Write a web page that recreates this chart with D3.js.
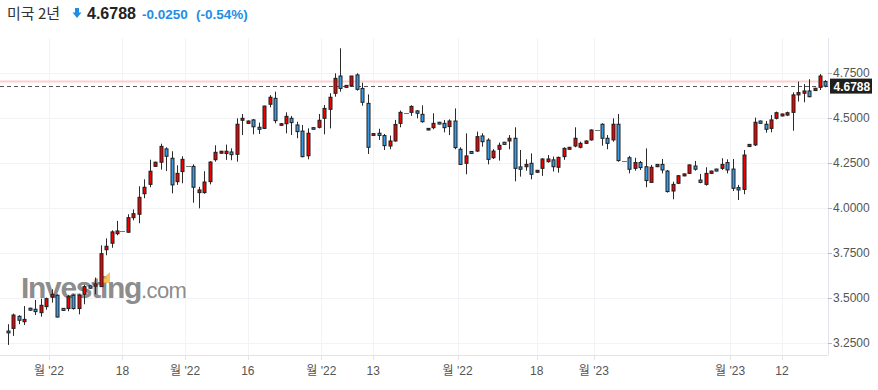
<!DOCTYPE html>
<html>
<head>
<meta charset="utf-8">
<script src="https://cdn.jsdelivr.net/npm/d3@7"></script>
<style>
  body { margin: 0; background: #fff; }
  svg { display: block; font-family: "Liberation Sans", Arial, "Noto Sans CJK KR", sans-serif; }
</style>
</head>
<body>
<svg id="chart" width="878" height="390"></svg>
<script>
// daily candles, oldest first
const opens = [3.318,3.333,3.400,3.370,3.445,3.439,3.420,3.454,3.507,3.517,3.444,3.443,3.517,3.443,3.522,3.569,3.567,3.565,3.770,3.806,
  3.859,3.874,3.867,3.948,3.967,4.081,4.133,4.233,4.256,4.330,4.278,4.148,4.204,4.237,4.233,4.087,4.087,4.148,4.270,4.306,
  4.304,4.313,4.300,4.489,4.472,4.491,4.450,4.444,4.578,4.611,4.461,4.470,4.500,4.463,4.429,4.292,4.448,4.450,4.500,4.550,
  4.639,4.735,4.672,4.681,4.741,4.666,4.583,4.405,4.417,4.404,4.346,4.374,4.472,4.530,4.533,4.541,4.522,4.435,4.448,4.478,
  4.472,4.454,4.485,4.328,4.250,4.316,4.318,4.402,4.379,4.281,4.328,4.367,4.374,4.389,4.230,4.231,4.250,4.200,4.222,4.259,
  4.269,4.228,4.287,4.328,4.346,4.339,4.361,4.380,4.433,4.467,4.389,4.380,4.467,4.263,4.281,4.222,4.254,4.231,4.144,4.231,
  4.244,4.207,4.096,4.139,4.180,4.194,4.235,4.157,4.133,4.194,4.218,4.222,4.254,4.218,4.115,4.105,4.343,4.352,4.485,4.467,
  4.444,4.500,4.513,4.518,4.533,4.630,4.639,4.652,4.654,4.672,4.704];
const highs = [3.356,3.415,3.406,3.457,3.448,3.491,3.498,3.504,3.550,3.522,3.446,3.519,3.522,3.522,3.574,3.572,3.615,3.794,3.833,3.878,
  3.930,3.874,3.967,3.994,4.122,4.161,4.270,4.259,4.359,4.339,4.317,4.239,4.289,4.237,4.244,4.119,4.206,4.261,4.350,4.319,
  4.354,4.333,4.500,4.524,4.488,4.496,4.476,4.570,4.629,4.648,4.474,4.533,4.513,4.481,4.463,4.444,4.450,4.524,4.574,4.639,
  4.750,4.889,4.685,4.735,4.750,4.698,4.633,4.417,4.442,4.413,4.404,4.491,4.543,4.530,4.572,4.546,4.572,4.446,4.528,4.480,
  4.491,4.494,4.555,4.339,4.416,4.318,4.426,4.417,4.389,4.329,4.365,4.369,4.407,4.450,4.324,4.272,4.305,4.213,4.278,4.296,
  4.287,4.287,4.339,4.341,4.450,4.370,4.378,4.439,4.433,4.472,4.407,4.500,4.524,4.263,4.291,4.281,4.263,4.333,4.241,4.246,
  4.274,4.213,4.148,4.185,4.193,4.244,4.263,4.191,4.228,4.209,4.220,4.278,4.272,4.274,4.130,4.324,4.357,4.504,4.487,4.485,
  4.518,4.537,4.526,4.537,4.644,4.704,4.690,4.717,4.669,4.746,4.712];
const lows = [3.241,3.291,3.356,3.352,3.430,3.407,3.398,3.437,3.476,3.393,3.431,3.428,3.437,3.411,3.467,3.554,3.522,3.563,3.739,3.781,
  3.850,3.874,3.865,3.933,3.917,4.056,4.117,4.231,4.215,4.207,4.083,4.130,4.139,4.237,4.031,4.000,4.081,4.133,4.259,4.304,
  4.269,4.267,4.259,4.407,4.470,4.411,4.413,4.440,4.561,4.472,4.457,4.416,4.407,4.389,4.283,4.272,4.437,4.444,4.411,4.444,
  4.620,4.648,4.670,4.676,4.654,4.570,4.302,4.403,4.380,4.324,4.328,4.370,4.450,4.530,4.513,4.500,4.476,4.433,4.439,4.466,
  4.422,4.407,4.328,4.241,4.189,4.303,4.313,4.342,4.244,4.274,4.265,4.353,4.328,4.150,4.176,4.209,4.161,4.198,4.180,4.254,
  4.204,4.198,4.269,4.326,4.339,4.333,4.357,4.376,4.433,4.348,4.328,4.370,4.259,4.263,4.194,4.209,4.213,4.117,4.143,4.229,
  4.194,4.087,4.050,4.135,4.178,4.191,4.209,4.139,4.126,4.192,4.205,4.213,4.194,4.096,4.046,4.078,4.341,4.346,4.470,4.420,
  4.422,4.494,4.511,4.513,4.431,4.593,4.589,4.617,4.652,4.657,4.672];
const closes = [3.308,3.407,3.378,3.383,3.434,3.426,3.461,3.498,3.522,3.396,3.433,3.509,3.443,3.517,3.565,3.556,3.580,3.748,3.789,3.869,
  3.874,3.874,3.948,3.970,4.061,4.117,4.206,4.256,4.344,4.289,4.130,4.194,4.272,4.237,4.117,4.102,4.146,4.257,4.311,4.317,
  4.317,4.298,4.467,4.500,4.485,4.453,4.439,4.568,4.617,4.487,4.470,4.511,4.476,4.426,4.287,4.417,4.439,4.489,4.555,4.617,
  4.722,4.666,4.683,4.735,4.661,4.589,4.339,4.415,4.405,4.348,4.374,4.466,4.533,4.530,4.566,4.528,4.481,4.444,4.472,4.468,
  4.448,4.485,4.337,4.244,4.291,4.305,4.398,4.370,4.272,4.318,4.350,4.355,4.389,4.222,4.217,4.244,4.189,4.211,4.274,4.274,
  4.231,4.283,4.333,4.339,4.389,4.361,4.374,4.435,4.433,4.389,4.361,4.467,4.265,4.263,4.217,4.254,4.226,4.154,4.228,4.244,
  4.213,4.093,4.133,4.181,4.191,4.241,4.217,4.144,4.194,4.207,4.207,4.244,4.213,4.111,4.102,4.296,4.355,4.478,4.472,4.439,
  4.491,4.531,4.524,4.531,4.630,4.643,4.652,4.620,4.667,4.735,4.6788];

const yTicks = [3.25, 3.5, 3.75, 4.0, 4.25, 4.5, 4.75];
const xTickIdx = [7.5, 21, 32.5, 44, 57.5, 67, 82.5, 97, 107.5, 132.5, 142];
const xTickLabels = ["월 '22", "18", "월 '22", "16", "월 '22", "13", "월 '22", "18", "월 '23", "월 '23", "12"];

const lastPrice = 4.6788;
const prevClose = 4.7038;
const title = "미국 2년";
const change = "-0.0250";
const changePct = "(-0.54%)";

const candles = closes.map((c, i) => ({ i, o: opens[i], h: highs[i], l: lows[i], c }));

const svg = d3.select("#chart");
const plot = { left: 0, right: 828, top: 38, bottom: 355 };

const x = d3.scaleLinear().domain([-1.47, 150.46]).range([plot.left, plot.right]);
const y = d3.scaleLinear().domain([3.25, 4.75]).range([343.3, 73.3]);

const gridColor = "#f2f3f6";
const axisColor = "#e1e4ea";

// grid
svg.append("g").selectAll("line").data(yTicks).join("line")
  .attr("x1", plot.left).attr("x2", plot.right)
  .attr("y1", d => Math.round(y(d)) + 0.5).attr("y2", d => Math.round(y(d)) + 0.5)
  .attr("stroke", gridColor);
svg.append("g").selectAll("line").data(xTickIdx).join("line")
  .attr("x1", d => Math.round(x(d)) + 0.5).attr("x2", d => Math.round(x(d)) + 0.5)
  .attr("y1", plot.top).attr("y2", plot.bottom)
  .attr("stroke", gridColor);

// watermark
const wm = svg.append("text")
  .attr("x", 21).attr("y", 298)
  .attr("fill", "#7d7d7d")
  .attr("fill-opacity", 0.9);
wm.append("tspan").attr("font-size", 30).attr("font-weight", "bold").attr("letter-spacing", -1.3).text("Investing");
wm.append("tspan").attr("font-size", 22).attr("letter-spacing", -0.6).text(".com");
svg.append("path")
  .attr("d", "M103,278 L110,272 L110,283 L103,283 Z")
  .attr("fill", "#f5b335").attr("opacity", 0.8);

// previous close + last price lines
svg.append("line")
  .attr("x1", plot.left).attr("x2", plot.right)
  .attr("y1", y(prevClose)).attr("y2", y(prevClose))
  .attr("stroke", "#fbd0d0").attr("stroke-width", 2);
svg.append("line")
  .attr("x1", plot.left).attr("x2", plot.right)
  .attr("y1", Math.round(y(lastPrice)) + 0.5).attr("y2", Math.round(y(lastPrice)) + 0.5)
  .attr("stroke", "#555").attr("stroke-dasharray", "4,3");

// candles
const g = svg.append("g");
g.selectAll("line.wick").data(candles).join("line")
  .attr("class", "wick")
  .attr("x1", d => Math.round(x(d.i)) + 0.5).attr("x2", d => Math.round(x(d.i)) + 0.5)
  .attr("y1", d => y(d.h)).attr("y2", d => y(d.l))
  .attr("stroke", "#2b2b2b").attr("stroke-width", 1);

const flat = d => Math.abs(y(d.o) - y(d.c)) < 0.5;
g.selectAll("line.doji").data(candles.filter(flat)).join("line")
  .attr("class", "doji")
  .attr("x1", d => Math.round(x(d.i)) - 2).attr("x2", d => Math.round(x(d.i)) + 3)
  .attr("y1", d => Math.round(y(d.c)) + 0.5).attr("y2", d => Math.round(y(d.c)) + 0.5)
  .attr("stroke", "#777");

g.selectAll("rect").data(candles.filter(d => !flat(d))).join("rect")
  .attr("x", d => Math.round(x(d.i)) - 1)
  .attr("width", 3)
  .attr("y", d => Math.min(y(d.o), y(d.c)))
  .attr("height", d => Math.max(Math.abs(y(d.o) - y(d.c)), 1.5))
  .attr("fill", d => d.c >= d.o ? "#f20000" : "#3a9ae6")
  .attr("stroke", "#1e1e1e").attr("stroke-width", 1);

// x axis
svg.append("line")
  .attr("x1", plot.left).attr("x2", plot.right)
  .attr("y1", plot.bottom + 0.5).attr("y2", plot.bottom + 0.5)
  .attr("stroke", axisColor);
svg.append("g").selectAll("line").data(xTickIdx).join("line")
  .attr("x1", d => Math.round(x(d)) + 0.5).attr("x2", d => Math.round(x(d)) + 0.5)
  .attr("y1", plot.bottom).attr("y2", plot.bottom + 5)
  .attr("stroke", axisColor);
svg.append("g").selectAll("text").data(xTickIdx).join("text")
  .attr("x", d => x(d)).attr("y", 375)
  .attr("text-anchor", "middle")
  .attr("font-size", 12).attr("fill", "#555")
  .text((d, i) => xTickLabels[i]);

// y axis (right)
svg.append("line")
  .attr("x1", plot.right + 0.5).attr("x2", plot.right + 0.5)
  .attr("y1", plot.top).attr("y2", plot.bottom)
  .attr("stroke", axisColor);
svg.append("g").selectAll("line").data(yTicks).join("line")
  .attr("x1", plot.right).attr("x2", plot.right + 4)
  .attr("y1", d => Math.round(y(d)) + 0.5).attr("y2", d => Math.round(y(d)) + 0.5)
  .attr("stroke", "#bbb");
svg.append("g").selectAll("text").data(yTicks).join("text")
  .attr("x", 833).attr("y", d => y(d) + 4)
  .attr("font-size", 12).attr("fill", "#555")
  .text(d => d3.format(".4f")(d));

// last price tag
svg.append("rect")
  .attr("x", 830).attr("y", y(lastPrice) - 7.5)
  .attr("width", 42).attr("height", 15)
  .attr("fill", "#1f1f1f");
svg.append("text")
  .attr("x", 833.5).attr("y", y(lastPrice) + 4.5)
  .attr("font-size", 12).attr("font-weight", "bold").attr("fill", "#fff")
  .text(d3.format(".4f")(lastPrice));

// header
svg.append("text")
  .attr("x", 7).attr("y", 19)
  .attr("font-family", "'Noto Sans CJK KR', sans-serif")
  .attr("font-size", 15).attr("fill", "#333")
  .text(title);
svg.append("path")
  .attr("d", "M75,8 L79,8 L79,12.5 L81.5,12.5 L77,18 L72.5,12.5 L75,12.5 Z")
  .attr("fill", "#1e8ee5");
svg.append("text")
  .attr("x", 87).attr("y", 19)
  .attr("font-size", 16).attr("font-weight", "bold").attr("fill", "#222")
  .text(d3.format(".4f")(lastPrice));
svg.append("text")
  .attr("x", 142).attr("y", 19)
  .attr("font-size", 13.5).attr("font-weight", "bold").attr("fill", "#1e8ee5")
  .text(change);
svg.append("text")
  .attr("x", 196).attr("y", 19)
  .attr("font-size", 13.5).attr("font-weight", "bold").attr("fill", "#1e8ee5")
  .text(changePct);
</script>
</body>
</html>
